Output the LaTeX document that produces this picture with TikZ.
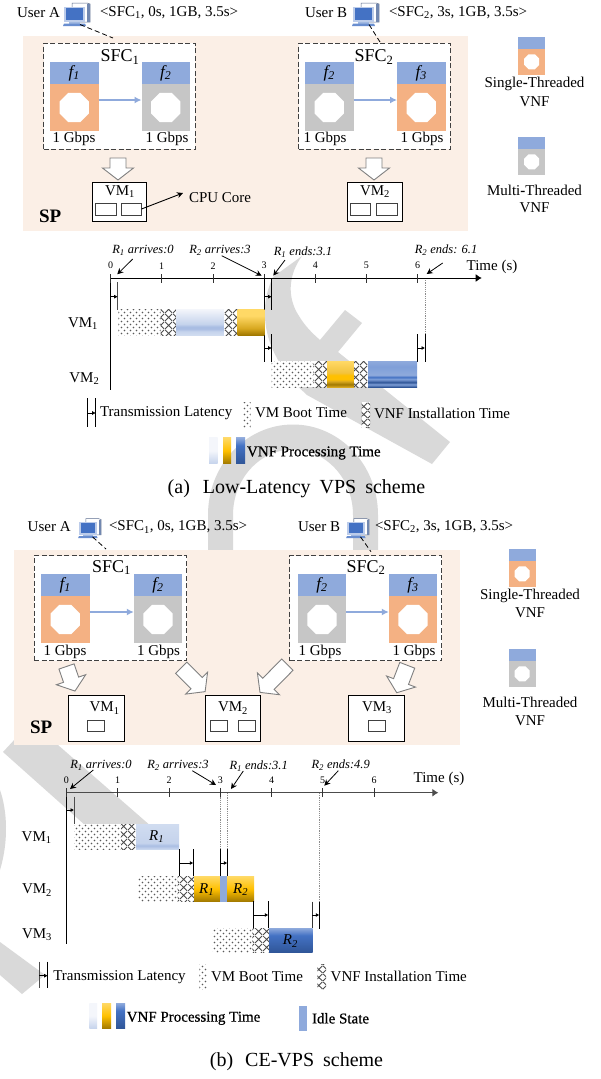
\documentclass[tikz,border=0pt]{standalone}
\usepackage{fontspec}
\setmainfont{Liberation Serif}
\usetikzlibrary{arrows.meta,patterns,calc}
\definecolor{wm}{HTML}{D9D9D9}
\definecolor{pinkbg}{HTML}{FBEFE6}
\definecolor{vnfblue}{HTML}{8FAADC}
\definecolor{vnforange}{HTML}{F4B183}
\definecolor{vnfgray}{HTML}{C6C6C6}
\definecolor{lba}{HTML}{F4F6FB}
\definecolor{lbb}{HTML}{C5D3EC}
\definecolor{lbc}{HTML}{A9BDE3}
\definecolor{lbd}{HTML}{D0DCF0}
\definecolor{gda}{HTML}{FFD966}
\definecolor{gdb}{HTML}{F2C23C}
\definecolor{gdc}{HTML}{FFC000}
\definecolor{gdd}{HTML}{A07800}
\definecolor{gde}{HTML}{D8A820}
\definecolor{dba}{HTML}{8FAADC}
\definecolor{dbb}{HTML}{7F9FD8}
\definecolor{dbc}{HTML}{4472C4}
\definecolor{dbd}{HTML}{2F5597}
\pgfdeclareverticalshading{sLightA}{100bp}{color(0bp)=(lbd); color(25bp)=(lbd); color(32bp)=(lbb); color(37bp)=(lbc); color(41bp)=(lbc); color(46bp)=(lbb); color(75bp)=(lba); color(100bp)=(lba)}
\pgfdeclareverticalshading{sGoldA}{100bp}{color(0bp)=(gdd); color(25bp)=(gdd); color(38bp)=(gde); color(62bp)=(gda); color(75bp)=(gda); color(100bp)=(gda)}
\pgfdeclareverticalshading{sGoldB}{100bp}{color(0bp)=(gde); color(25bp)=(gde); color(30bp)=(gdd); color(36bp)=(gde); color(40bp)=(gdc); color(48bp)=(gdc); color(52bp)=(gdb); color(75bp)=(gda); color(100bp)=(gda)}
\pgfdeclareverticalshading{sBlueA}{100bp}{color(0bp)=(dbd); color(25bp)=(dbd); color(30bp)=(dbb); color(34bp)=(dbd); color(40bp)=(dbb); color(44bp)=(dbc); color(48bp)=(dba); color(64bp)=(dbb); color(75bp)=(dba); color(100bp)=(dba)}
\pgfdeclareverticalshading{sLightB}{100bp}{color(0bp)=(lbb); color(25bp)=(lbb); color(50bp)=(lba); color(75bp)=(lba); color(100bp)=(lba)}
\pgfdeclareverticalshading{sGoldC}{100bp}{color(0bp)=(gdd); color(25bp)=(gdd); color(50bp)=(gdc); color(75bp)=(gda); color(100bp)=(gda)}
\pgfdeclareverticalshading{sBlueC}{100bp}{color(0bp)=(dbd); color(25bp)=(dbd); color(60bp)=(dbc); color(75bp)=(dba); color(100bp)=(dba)}
\pgfdeclareverticalshading{sLightR}{100bp}{color(0bp)=(lbd); color(25bp)=(lbd); color(33bp)=(lbc); color(38bp)=(lbb); color(75bp)=(lbd); color(100bp)=(lbd)}
\pgfdeclarepatternformonly{dotfill}{\pgfqpoint{-1pt}{-1pt}}{\pgfqpoint{7pt}{7pt}}{\pgfqpoint{6pt}{6pt}}{%
  \pgfpathcircle{\pgfqpoint{1.5pt}{1.5pt}}{.8pt}\pgfpathcircle{\pgfqpoint{4.5pt}{4.5pt}}{.8pt}\pgfusepath{fill}}
\pgfdeclarepatternformonly{crossfill}{\pgfqpoint{0pt}{0pt}}{\pgfqpoint{7.5pt}{7.5pt}}{\pgfqpoint{7.5pt}{7.5pt}}{%
  \pgfsetlinewidth{.9pt}\pgfpathmoveto{\pgfqpoint{0pt}{0pt}}\pgfpathlineto{\pgfqpoint{7.5pt}{7.5pt}}\pgfpathmoveto{\pgfqpoint{0pt}{7.5pt}}\pgfpathlineto{\pgfqpoint{7.5pt}{0pt}}\pgfusepath{stroke}}
\newcommand{\pcicon}[4]{% name, x, y (centre), scale
  \begin{scope}[shift={(#2,#3)},scale=#4]
    \fill[white,draw=black!35!vnfblue,line width=.5pt] (-5,-11) -- (10,-11) -- (13,-10) -- (13,8) -- (-5,8) -- cycle;
    \fill[black!20!vnfblue] (10,-10) rectangle (13,8);
    \fill[white!40!vnfblue] (-13,-7.5) rectangle (8,8);
    \fill[dbc] (-11,-6) rectangle (6,6);
    \fill[white!50!dbc] (-8,8) rectangle (3,9.5);
    \fill[dbc!80!white] (-13,9.5) -- (8,9.5) -- (9,12) -- (-14,12) -- cycle;
    \coordinate (#1) at (3,10.5);
  \end{scope}}
\newcommand{\octa}[2]{% centre, half width
  \fill[white,shift={(#1)},scale=#2] (-1,-.414) -- (-.414,-1) -- (.414,-1) -- (1,-.414) -- (1,.414) -- (.414,1) -- (-.414,1) -- (-1,.414) -- cycle;}
\newcommand{\vnf}[5]{% name, x, y, colour, label
  \node[vnfbody,fill=#4,anchor=north west] (#1) at (#2,#3+22) {};
  \node[vnfhead,anchor=south west] (#1h) at (#2,#3+22) {\fontsize{17}{17}\selectfont\textit{#5}};
  \octa{#1.center}{14.6}}
\newcommand{\legendvnf}[4]{% name, x, y, colour
  \node[fill=vnfblue,inner sep=0,outer sep=0,minimum width=27.3pt,minimum height=12pt,anchor=north west] (#1h) at (#2,#3) {};
  \node[fill=#4,inner sep=0,outer sep=0,minimum width=27.3pt,minimum height=25.5pt,anchor=north west] (#1) at (#2,#3+12) {};
  \octa{#1.center}{7.5}}
\newcommand{\hollow}[5]{% name, x, y, rotation, length
  \begin{scope}[shift={(#2,#3)},rotate=#4]
    \coordinate (#1) at (0,0);
    \draw[harrow] (-#5/2,-8) -- (#5/2-12,-8) -- (#5/2-12,-15.5) -- (#5/2,0) -- (#5/2-12,15.5) -- (#5/2-12,8) -- (-#5/2,8) -- cycle;
  \end{scope}}
\newcommand{\seg}[5]{\path[#1] (#2,#4) rectangle (#3,#5);}
\newcommand{\tlat}[4]{% name, x1, x2, y: little arrow
  \coordinate (#1a) at (#2,#4); \coordinate (#1b) at (#3,#4);
  \draw[tarrow] (#1a) -- (#1b);}
\newcommand{\fakeb}{\addfontfeature{FakeBold=0.6}}
\tikzset{
  txt/.style={inner sep=0,outer sep=0,font=\fontsize{15}{15}\selectfont},
  noted/.style={inner sep=0,outer sep=0,font=\fontsize{12.5}{12.5}\selectfont\itshape},
  ticklab/.style={inner sep=0,outer sep=0,font=\fontsize{10}{10}\selectfont},
  bigt/.style={inner sep=0,outer sep=0,font=\fontsize{18}{18}\selectfont},
  capt/.style={inner sep=0,outer sep=0,font=\fontsize{20}{20}\selectfont},
  spbold/.style={inner sep=0,outer sep=0,font=\fontsize{19}{19}\selectfont\bfseries},
  vnfbody/.style={inner sep=0,outer sep=0,minimum width=48.5pt,minimum height=47pt},
  vnfhead/.style={inner sep=0,outer sep=0,fill=vnfblue,minimum width=48.5pt,minimum height=22pt},
  sfcbox/.style={draw=black!75,fill=white,line width=1pt,dash pattern=on 5pt off 2.5pt,inner sep=0,outer sep=0,anchor=north west},
  vmbox/.style={draw=black,fill=white,line width=1pt,inner sep=0,outer sep=0,anchor=north west},
  cpu/.style={draw=black!75,fill=white,line width=.9pt,inner sep=0,outer sep=0,anchor=north west},
  flow/.style={draw=vnfblue,line width=1.6pt,-{Latex[length=7pt,width=7pt]}},
  harrow/.style={draw=black!50,fill=white,line width=.9pt,line join=miter},
  dashl/.style={draw=black,line width=.8pt,dash pattern=on 5pt off 3pt},
  axisl/.style={draw=black,line width=1pt,-{Latex[length=6pt,width=8pt]}},
  vaxis/.style={draw=black,line width=1pt},
  tickl/.style={draw=black!80,line width=.8pt},
  note/.style={draw=black,line width=.8pt,-{Stealth[length=6pt,width=6pt]}},
  tline/.style={draw=black,line width=1pt},
  tarrow/.style={draw=black,line width=.8pt,-{Latex[length=3.5pt,width=4pt]}},
  guide/.style={draw=black!45,line width=.8pt,dash pattern=on 1.2pt off 1pt},
  dotsf/.style={preaction={fill=white},pattern=dotfill,pattern color=black!65},
  crossf/.style={preaction={fill=white},pattern=crossfill,pattern color=black!70}
}
\begin{document}
\begin{tikzpicture}[x=1pt,y=-1pt]
\useasboundingbox (0,0) rectangle (600,1079);
\fill[white] (0,0) rectangle (600,1079);
% watermark
\fill[wm] (273,277) -- (302,256) .. controls (288,275) and (287,298) .. (299,316) .. controls (305,326) and (312,333) .. (320,340) -- (345,310) -- (362,323) -- (338,352) -- (450,442) -- (432,464) -- (307,395) .. controls (285,375) and (270,352) .. (266,327) .. controls (263,308) and (266,292) .. (273,277) -- cycle;
\draw[wm,line width=25pt] (220.5,560) -- (220.5,515) arc[start angle=180,end angle=360,x radius=72.5,y radius=78] -- (365.5,560);
\fill[wm] (3,752) -- (16,738) -- (37,740) -- (58,745) -- (160,834) -- (95,834) -- cycle;
\fill[wm] (0,790) .. controls (7,810) and (9,840) .. (0,870) -- cycle;
\fill[wm] (0,942) -- (45,975) -- (22,994) -- (0,975) -- cycle;

%%%%%%%%%%%%%%%% (a) top
\fill[pinkbg] (23,36) rectangle (468,231);
\pcicon{ua}{77}{14}{1}
\pcicon{ub}{366}{14}{1}
\node[txt,anchor=west] (ualab) at (17,13) {User A};
\node[txt,anchor=west] (ubreq0) at (305,13) {User B};
\node[txt,anchor=west] (ureq) at (100,13) {<SFC\textsubscript{1}, 0s, 1GB, 3.5s>};
\node[txt,anchor=west] (ubreq) at (389,13) {<SFC\textsubscript{2}, 3s, 1GB, 3.5s>};
\node[sfcbox,minimum width=151.5pt,minimum height=106pt] (sfca) at (43.5,43) {};
\node[sfcbox,minimum width=151.5pt,minimum height=106pt] (sfcb) at (298.5,43) {};
\coordinate (sfcaIn) at (113,38);
\coordinate (sfcbIn) at (380,42);
\draw[dashl] (ua) -- (sfcaIn);
\draw[dashl] (ub) -- (sfcbIn);
\node[bigt] (sfcalab) at (120,57) {SFC\textsubscript{1}};
\node[bigt] (sfcblab) at (374,57) {SFC\textsubscript{2}};
\vnf{a1}{50}{62}{vnforange}{f\textsubscript{1}}
\vnf{a2}{141.5}{62}{vnfgray}{f\textsubscript{2}}
\vnf{a3}{305}{62}{vnfgray}{f\textsubscript{2}}
\vnf{a4}{397}{62}{vnforange}{f\textsubscript{3}}
\draw[flow] ([yshift=7.5pt]a1.east) -- ([yshift=7.5pt]a2.west);
\draw[flow] ([yshift=7.5pt]a3.east) -- ([yshift=7.5pt]a4.west);
\node[txt] (g1) at (74,139) {1 Gbps};
\node[txt] (g2) at (167,139) {1 Gbps};
\node[txt] (g3) at (325,139) {1 Gbps};
\node[txt] (g4) at (422,139) {1 Gbps};
\hollow{ha1}{118}{169}{-90}{22}
\hollow{ha2}{374}{169}{-90}{22}
\node[vmbox,minimum width=54.5pt,minimum height=39pt] (vma1) at (92,182) {};
\node[vmbox,minimum width=55pt,minimum height=39pt] (vma2) at (347,182) {};
\node[txt] (vma1l) at (120,192) {VM\textsubscript{1}};
\node[txt] (vma2l) at (375,192) {VM\textsubscript{2}};
\node[cpu,minimum width=21pt,minimum height=12pt] (ca1) at (95,203) {};
\node[cpu,minimum width=20.5pt,minimum height=12pt] (ca2) at (121,203) {};
\node[cpu,minimum width=20.5pt,minimum height=12pt] (ca3) at (350,203) {};
\node[cpu,minimum width=21pt,minimum height=12pt] (ca4) at (376,203) {};
\node[txt,anchor=west] (cpul) at (189,198) {CPU Core};
\coordinate (cput) at (183,193);
\draw[draw=black,line width=.9pt,-{Stealth[length=6pt,width=6pt]}] (ca2.east) -- (cput);
\node[spbold,anchor=west] (spa) at (39,216) {SP};
\legendvnf{la1}{518}{37}{vnforange}
\node[txt] (la1t) at (534.5,84) {Single\textbf{-}Threaded};
\node[txt] (la1v) at (534.5,102) {VNF};
\legendvnf{la2}{518}{137}{vnfgray}
\node[txt] (la2t) at (534.5,190) {Multi\textbf{-}Threaded};
\node[txt] (la2v) at (534.5,208) {VNF};

%%%%%%%%%%%%%%%% (a) gantt
\draw[guide] (425,278) -- (425,334);
\coordinate (oa) at (110.7,278);
\coordinate (ea) at (481.7,278);
\draw[axisl] (oa) -- (ea);
\draw[vaxis] (oa) -- (110.7,390);
\foreach \n/\x in {0/110.7,1/161.7,2/213,3/264,4/315.3,5/366.3,6/417.7}{
  \draw[tickl] (\x,274) -- (\x,283);
  \node[ticklab] (ta\n) at (\x,265.7) {\n};}
\node[txt] (timea) at (492,267) {Time (s)};
\node[noted] (n1) at (143,250) {R\textsubscript{1} arrives:0};
\node[noted] (n2) at (220,250) {R\textsubscript{2} arrives:3};
\node[noted] (n3) at (303,252) {R\textsubscript{1} ends:3.1};
\node[noted] (n4) at (446,250) {R\textsubscript{2} ends: 6.1};
\draw[note] (132.7,259) -- (117.3,274.3);
\draw[note] (221.7,255.7) -- (261.7,275.7);
\draw[note] (285,260) -- (273.3,275.7);
\draw[note] (442.7,263) -- (426.7,274);
\draw[tline,black!70] (117.7,282) -- (117.7,310);
\tlat{ta}{110.7}{117.7}{296.7}
\draw[tline] (264,278) -- (264,362);
\draw[tline] (271.7,278) -- (271.7,310);
\tlat{tb}{264}{271.7}{296.7}
\draw[tline] (271.7,334) -- (271.7,362);
\tlat{tc}{264}{271.7}{348}
\draw[tline] (417.3,334) -- (417.3,362);
\draw[tline] (425,334) -- (425,362);
\tlat{td}{417.3}{425}{348}
% rows
\seg{dotsf}{118.3}{160.7}{309}{335}
\seg{crossf}{160.7}{176}{309}{335}
\shade[shading=sLightA] (176,309) rectangle (224,335);
\seg{crossf}{224}{237.7}{309}{335}
\shade[shading=sGoldA] (237.7,309) rectangle (264.3,335);
\seg{dotsf}{271.7}{313.3}{361}{387}
\seg{crossf}{313.3}{327}{361}{387}
\shade[shading=sGoldB] (327,361) rectangle (354,387);
\seg{crossf}{354}{368}{361}{387}
\shade[shading=sBlueA] (368,361) rectangle (417,387);
\node[txt] (vl1) at (83,324) {VM\textsubscript{1}};
\node[txt] (vl2) at (84.3,379) {VM\textsubscript{2}};
% legend
\draw[tline] (87.7,398) -- (87.7,427);
\draw[tline] (95.7,398) -- (95.7,427);
\tlat{te}{87.7}{95.7}{413}
\node[txt,anchor=west] (lt1) at (100,413) {Transmission Latency};
\seg{dotsf}{243}{250.7}{402}{427}
\node[txt,anchor=west] (lt2) at (255,413) {VM Boot Time};
\seg{crossf}{361.7}{370}{402}{427}
\node[txt,anchor=west] (lt3) at (374,413) {VNF Installation Time};
\shade[shading=sLightB] (209,437.7) rectangle (217.7,463.7);
\shade[shading=sGoldC] (223,437.7) rectangle (231,463.7);
\shade[shading=sBlueC] (236,437.7) rectangle (245,463.7);
\node[txt,anchor=west] (lt4) at (247,453) {\fakeb VNF Processing Time};
\node[capt] (capa) at (296.5,489) {(a)\hspace{.4em} Low-Latency\hspace{.2em} VPS\hspace{.2em} scheme};

%%%%%%%%%%%%%%%% (b) top
\fill[pinkbg] (14,550) rectangle (460,745);
\pcicon{ua2}{90}{528}{.85}
\pcicon{ub2}{358}{528}{.85}
\node[txt,anchor=west] (ub1) at (27.7,527) {User A};
\node[txt,anchor=west] (ub3) at (298,527) {User B};
\node[txt,anchor=west] (ureq2) at (109,527) {<SFC\textsubscript{1}, 0s, 1GB, 3.5s>};
\node[txt,anchor=west] (ubreq2) at (375,527) {<SFC\textsubscript{2}, 3s, 1GB, 3.5s>};
\node[sfcbox,minimum width=152.5pt,minimum height=105pt] (sfcc) at (34,555.7) {};
\node[sfcbox,minimum width=152pt,minimum height=105pt] (sfcd) at (289.6,555.7) {};
\coordinate (sfccIn) at (106,549);
\coordinate (sfcdIn) at (371,551.7);
\draw[dashl] (ua2) -- (sfccIn);
\draw[dashl] (ub2) -- (sfcdIn);
\node[bigt] (sfcclab) at (111.5,567.7) {SFC\textsubscript{1}};
\node[bigt] (sfcdlab) at (366,567.7) {SFC\textsubscript{2}};
\vnf{b1}{41}{574}{vnforange}{f\textsubscript{1}}
\vnf{b2}{133.8}{574}{vnfgray}{f\textsubscript{2}}
\vnf{b3}{297.7}{574}{vnfgray}{f\textsubscript{2}}
\vnf{b4}{388.8}{574}{vnforange}{f\textsubscript{3}}
\draw[flow] ([yshift=7.5pt]b1.east) -- ([yshift=7.5pt]b2.west);
\draw[flow] ([yshift=7.5pt]b3.east) -- ([yshift=7.5pt]b4.west);
\node[txt] (g5) at (65,651.7) {1 Gbps};
\node[txt] (g6) at (158.5,651.7) {1 Gbps};
\node[txt] (g7) at (320,651.7) {1 Gbps};
\node[txt] (g8) at (414,651.7) {1 Gbps};
\hollow{hb1}{70.75}{678.75}{-71}{26}
\hollow{hb2}{193.2}{679.7}{-45}{33.7}
\hollow{hb3}{273.7}{678.5}{-134.6}{39}
\hollow{hb4}{402}{679}{-111}{29.4}
\node[vmbox,minimum width=55.5pt,minimum height=46pt] (vmb1) at (68.5,695) {};
\node[vmbox,minimum width=55.8pt,minimum height=46pt] (vmb2) at (205,695) {};
\node[vmbox,minimum width=55.5pt,minimum height=46pt] (vmb3) at (348.5,695) {};
\node[txt] (vmb1l) at (104.6,708) {VM\textsubscript{1}};
\node[txt] (vmb2l) at (233,708) {VM\textsubscript{2}};
\node[txt] (vmb3l) at (377,708) {VM\textsubscript{3}};
\node[cpu,minimum width=17pt,minimum height=11.7pt] (cb1) at (87,720) {};
\node[cpu,minimum width=17pt,minimum height=11.7pt] (cb2) at (210,720) {};
\node[cpu,minimum width=17pt,minimum height=11.7pt] (cb3) at (238.5,720) {};
\node[cpu,minimum width=17pt,minimum height=11.7pt] (cb4) at (368,720) {};
\node[spbold,anchor=west] (spb) at (30,727.7) {SP};
\legendvnf{lb1}{508.5}{549}{vnforange}
\node[txt] (lb1t) at (530,595.7) {Single\textbf{-}Threaded};
\node[txt] (lb1v) at (530,613) {VNF};
\legendvnf{lb2}{508.5}{649}{vnfgray}
\node[txt] (lb2t) at (530,702) {Multi\textbf{-}Threaded};
\node[txt] (lb2v) at (530,721) {VNF};

%%%%%%%%%%%%%%%% (b) gantt
\draw[guide] (220,793) -- (220,849);
\draw[guide] (227.3,793) -- (227.3,849);
\draw[guide] (319.3,793) -- (319.3,902);
\coordinate (ob) at (66.3,792.7);
\coordinate (eb) at (438.3,792.7);
\draw[axisl,draw=black!70] (ob) -- (eb);
\draw[vaxis] (ob) -- (66.3,944);
\foreach \n/\x in {0/66.3,1/117.7,2/169,3/220.3,4/271.7,5/322.7,6/374}{
  \draw[tickl] (\x,788) -- (\x,797);
  \node[ticklab] (tb\n) at (\x,780) {\n};}
\node[txt] (timeb) at (439,779) {Time (s)};
\node[noted] (m1) at (101,765) {R\textsubscript{1} arrives:0};
\node[noted] (m2) at (178,765) {R\textsubscript{2} arrives:3};
\node[noted] (m3) at (258.7,766) {R\textsubscript{1} ends:3.1};
\node[noted] (m4) at (340.7,765) {R\textsubscript{2} ends:4.9};
\draw[note] (93.3,770) -- (70,789);
\draw[note] (192.3,770.7) -- (216,785);
\draw[note] (243.3,771) -- (231,789);
\draw[note] (338.3,770.7) -- (324.3,785.7);
\draw[tline,black!70] (74,796.7) -- (74,824);
\tlat{tf}{66.3}{74}{810}
\seg{dotsf}{74}{121}{824.3}{849.7}
\seg{crossf}{121}{136}{824.3}{849.7}
\shade[shading=sLightR] (136,824.3) rectangle (179,849.7);
\node[txt,font=\fontsize{15}{15}\selectfont\itshape] (rr1) at (156.7,836.7) {R\textsubscript{1}};
\draw[tline] (179,849) -- (179,876);
\draw[tline] (193.3,849) -- (193.3,876);
\tlat{tg}{179}{193.3}{863}
\draw[tline] (220,849) -- (220,876);
\draw[tline] (227.3,849) -- (227.3,876);
\tlat{th}{220}{227.3}{863}
\seg{dotsf}{138}{177.7}{876.3}{901.7}
\seg{crossf}{177.7}{194}{876.3}{901.7}
\shade[shading=sGoldC] (194,876.3) rectangle (220,901.7);
\fill[vnfblue] (220,876.3) rectangle (227,901.7);
\shade[shading=sGoldC] (227,876.3) rectangle (254,901.7);
\node[txt,font=\fontsize{15}{15}\selectfont\itshape] (rr2) at (206.7,889.3) {R\textsubscript{1}};
\node[txt,font=\fontsize{15}{15}\selectfont\itshape] (rr3) at (240.7,889.3) {R\textsubscript{2}};
\draw[tline] (253.7,901) -- (253.7,928.3);
\draw[tline] (268.3,901) -- (268.3,928.3);
\tlat{ti}{253.7}{268.3}{915}
\draw[tline,black!80] (312,901.7) -- (312,928.3);
\draw[tline] (319.3,901.7) -- (319.3,929);
\tlat{tj}{312}{319.3}{915}
\seg{dotsf}{212.3}{252.3}{928}{952.7}
\seg{crossf}{252.3}{269}{928}{952.7}
\shade[shading=sBlueC] (269,928) rectangle (312.7,952.7);
\node[txt,font=\fontsize{15}{15}\selectfont\itshape] (rr4) at (290.3,941) {R\textsubscript{2}};
\node[txt] (wl1) at (36.7,837.7) {VM\textsubscript{1}};
\node[txt] (wl2) at (37,890) {VM\textsubscript{2}};
\node[txt] (wl3) at (37,934.3) {VM\textsubscript{3}};
% legend
\draw[tline,black!70] (39.3,961.7) -- (39.3,988);
\draw[tline] (47.7,961.7) -- (47.7,988);
\tlat{tk}{39.3}{47.7}{975.7}
\node[txt,anchor=west] (kt1) at (53.3,976.7) {Transmission Latency};
\seg{dotsf}{199.3}{207.3}{964}{989}
\node[txt,anchor=west] (kt2) at (211,976.7) {VM Boot Time};
\seg{crossf}{317.3}{326}{964}{989}
\node[txt,anchor=west] (kt3) at (330.7,976.7) {VNF Installation Time};
\shade[shading=sLightB] (89.3,1003) rectangle (97,1028.7);
\shade[shading=sGoldC] (102,1003) rectangle (111,1028.7);
\shade[shading=sBlueC] (116,1003) rectangle (125,1028.7);
\node[txt,anchor=west] (kt4) at (126.7,1018.3) {\fakeb VNF Processing Time};
\fill[vnfblue] (299.3,1006) rectangle (307,1030.7);
\node[txt,anchor=west] (kt5) at (312,1018.3) {\fakeb Idle State};
\node[capt] (capb) at (296.5,1061.7) {(b)\hspace{.35em} CE-VPS\hspace{.2em} scheme};
\end{tikzpicture}
\end{document}
